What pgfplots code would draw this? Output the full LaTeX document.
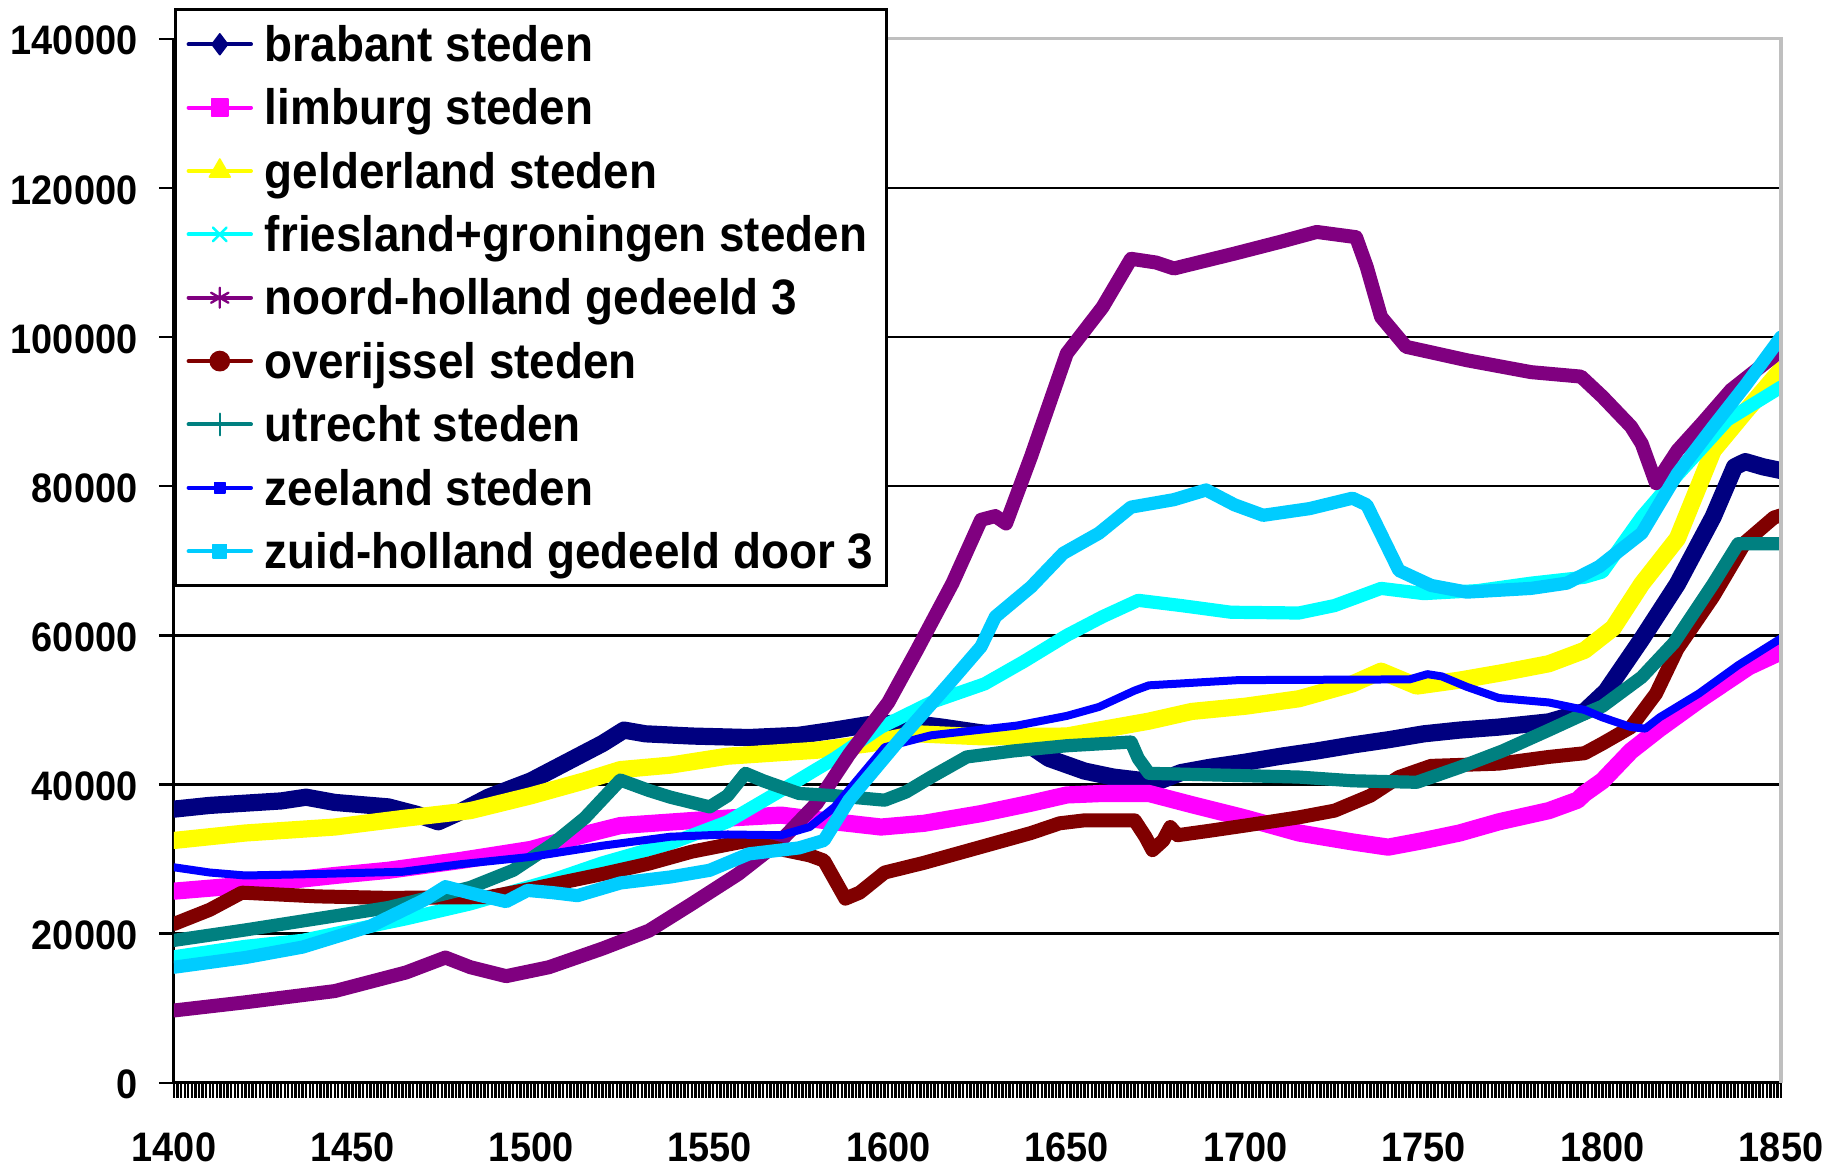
\documentclass[border=0pt]{standalone}
\usepackage{pgfplots}
\pgfplotsset{compat=1.18}
\usepackage{fontspec}
\setmainfont{Liberation Sans}[FakeStretch=0.92]
\definecolor{cNavy}{HTML}{000080}
\definecolor{cMag}{HTML}{FF00FF}
\definecolor{cYel}{HTML}{FFFF00}
\definecolor{cCyan}{HTML}{00FFFF}
\definecolor{cPurp}{HTML}{800080}
\definecolor{cMaroon}{HTML}{800000}
\definecolor{cTeal}{HTML}{008080}
\definecolor{cBlue}{HTML}{0000FF}
\definecolor{cSky}{HTML}{00CCFF}
\pgfplotsset{nomark/.style={mark repeat=100000, mark phase=100000}}
\begin{document}
\begin{tikzpicture}
\begin{axis}[
  name=ax, scale only axis, width=401.75pt, height=261pt,
  xmin=1400, xmax=1850, ymin=0, ymax=140000,
  axis x line*=bottom, axis y line*=left,
  axis line style={line width=0.75pt, black},
  xtick={1400,1450,...,1850}, minor x tick num=49,
  ytick={0,20000,...,140000},
  tick align=outside, major tick length=3.75pt, minor tick length=3.75pt,
  every tick/.style={black, line width=0.6pt},
  ymajorgrids, grid style={black, line width=0.6pt},
  scaled y ticks=false, scaled x ticks=false,
  /pgf/number format/fixed, /pgf/number format/precision=0,
  /pgf/number format/1000 sep={}, /pgf/number format/assume math mode=true,
  tick label style={font=\fontsize{10.3}{12}\selectfont\bfseries},
  xticklabel style={yshift=-5.3pt},
  yticklabel style={xshift=-1.9pt, yshift=-0.5pt},
  every axis plot/.append style={line join=round, line cap=round},
  legend cell align=left,
  legend style={at={(0,1)}, anchor=north west, yshift=7.6pt, draw=black, line width=0.7pt, fill=white,
    inner xsep=2.8pt, inner ysep=0.7pt, row sep=0pt, column sep=2.5pt,
    font=\fontsize{12.45}{14}\selectfont\bfseries,
    nodes={inner xsep=0.5pt, inner ysep=1.82pt, text height=10.4pt, text depth=1.8pt}},
  legend image code/.code={\draw[#1, line width=1pt, mark repeat=2, mark phase=2] plot coordinates {(0pt,0pt) (7.8pt,0pt) (15.6pt,0pt)};},
  after end axis/.code={\draw[color=black!25, line width=0.8pt] (rel axis cs:0.4406,1) -- (rel axis cs:1,1) -- (rel axis cs:1,0);},
]
\addplot[color=cNavy, line width=4.3pt, mark=diamond*, mark size=2.6pt, mark options={solid, line width=0.4pt}, nomark] coordinates {
(1400,36700)(1410,37200)(1420,37500)(1430,37800)(1437,38300)(1445,37600)(1460,37000)(1468,36000)(1474,35000)(1480,36300)(1488,38300)(1500,40500)(1510,43000)(1520,45500)(1526,47300)(1532,46800)(1545,46500)(1561,46300)(1575,46600)(1585,47300)(1594,48000)(1605,48300)(1615,47700)(1625,47000)(1636,46400)(1645,43500)(1655,41800)(1663,41000)(1670,40600)(1676,40500)(1682,41600)(1690,42300)(1700,43000)(1710,43800)(1720,44500)(1730,45300)(1740,46000)(1750,46800)(1760,47300)(1771,47700)(1785,48400)(1795,49800)(1801,52500)(1811,59500)(1821,66900)(1831,75900)(1837,82600)(1840,83300)(1845,82600)(1850,82100)
};
\addlegendentry{brabant steden}
\addplot[color=cMag, line width=4.3pt, mark=square*, mark size=2.1pt, mark options={solid, line width=0.4pt}, nomark] coordinates {
(1400,25700)(1420,26500)(1445,27800)(1460,28500)(1480,29800)(1500,31300)(1515,33300)(1525,34500)(1540,35000)(1555,35500)(1570,35900)(1585,35000)(1598,34300)(1610,34800)(1626,36100)(1640,37500)(1650,38600)(1660,38800)(1673,38800)(1685,37300)(1700,35500)(1715,33500)(1730,32300)(1740,31600)(1750,32500)(1760,33500)(1771,35000)(1785,36500)(1793,37900)(1795,38800)(1800,40500)(1808,44500)(1816,47500)(1827,51300)(1841,55800)(1850,57800)
};
\addlegendentry{limburg steden}
\addplot[color=cYel, line width=4.3pt, mark=triangle*, mark size=3pt, mark options={solid, line width=0.4pt}, nomark] coordinates {
(1400,32500)(1420,33500)(1445,34300)(1465,35500)(1483,36500)(1500,38500)(1515,40500)(1525,42000)(1539,42600)(1555,43800)(1580,44600)(1595,45500)(1608,46800)(1626,46400)(1650,46500)(1659,47300)(1673,48500)(1685,49800)(1700,50500)(1715,51500)(1730,53500)(1738,55200)(1748,53200)(1760,54000)(1772,55000)(1785,56200)(1795,58000)(1803,61000)(1811,66900)(1821,73000)(1831,84800)(1840,90000)(1850,95600)
};
\addlegendentry{gelderland steden}
\addplot[color=cCyan, line width=3.3pt, mark=x, mark size=2.4pt, mark options={solid, line width=0.6pt}, nomark] coordinates {
(1400,16900)(1420,18300)(1436,19100)(1445,20000)(1465,22000)(1483,24000)(1506,27200)(1520,29500)(1539,32100)(1555,35000)(1570,39200)(1585,43500)(1598,47700)(1612,51000)(1627,53500)(1638,56500)(1650,60000)(1660,62500)(1670,64700)(1682,64000)(1696,63100)(1715,63000)(1725,64000)(1738,66300)(1750,65600)(1765,66000)(1780,67000)(1795,67800)(1800,68500)(1811,75900)(1821,81500)(1835,88900)(1850,93300)
};
\addlegendentry{friesland+groningen steden}
\addplot[color=cPurp, line width=3.5pt, mark=asterisk, mark size=2.5pt, mark options={solid, line width=0.6pt}, nomark] coordinates {
(1400,9700)(1420,10800)(1445,12300)(1465,14800)(1476,16800)(1483,15500)(1493,14300)(1505,15500)(1520,18000)(1533,20400)(1545,24000)(1558,28000)(1570,32500)(1580,37500)(1589,44000)(1600,51000)(1608,58000)(1618,67000)(1626,75500)(1630,76000)(1633,75000)(1640,84000)(1650,97800)(1660,104000)(1668,110500)(1675,110000)(1680,109200)(1697,111200)(1710,112800)(1720,114100)(1731,113400)(1734,109400)(1738,102700)(1745,98700)(1762,96900)(1780,95300)(1794,94700)(1800,92000)(1808,88000)(1811,85700)(1815,80400)(1821,84800)(1828,88500)(1836,92900)(1850,98200)
};
\addlegendentry{noord-holland gedeeld 3}
\addplot[color=cMaroon, line width=3.5pt, mark=*, mark size=2.4pt, mark options={solid, line width=0.4pt}, nomark] coordinates {
(1400,21300)(1410,23200)(1419,25500)(1440,25000)(1460,24800)(1488,24900)(1500,26000)(1520,28000)(1533,29400)(1545,31000)(1561,32500)(1570,31300)(1578,30500)(1582,29800)(1588,24700)(1592,25500)(1599,28200)(1610,29500)(1625,31500)(1640,33500)(1648,34800)(1655,35200)(1669,35200)(1672,33000)(1674,31200)(1677,32500)(1679,34300)(1681,33200)(1690,33800)(1700,34500)(1715,35600)(1725,36500)(1735,38500)(1743,41000)(1752,42500)(1771,42800)(1785,43700)(1795,44200)(1800,45500)(1808,47700)(1815,52200)(1821,58200)(1831,65200)(1840,72500)(1848,75800)(1850,76100)
};
\addlegendentry{overijssel steden}
\addplot[color=cTeal, line width=3.3pt, mark=+, mark size=2.7pt, mark options={solid, line width=0.6pt}, nomark] coordinates {
(1400,19100)(1420,20500)(1440,22000)(1460,23500)(1483,26200)(1495,28500)(1506,32000)(1515,35500)(1525,40600)(1533,39200)(1539,38300)(1550,37000)(1555,38500)(1560,41500)(1565,40500)(1575,38800)(1585,38500)(1599,37900)(1605,39000)(1612,41000)(1622,43700)(1635,44500)(1650,45200)(1668,45700)(1670,43500)(1673,41500)(1690,41300)(1715,41000)(1730,40500)(1748,40300)(1760,42300)(1772,44500)(1785,47300)(1795,49500)(1800,50500)(1811,54400)(1820,59000)(1831,66900)(1838,72300)(1850,72300)
};
\addlegendentry{utrecht steden}
\addplot[color=cBlue, line width=2pt, mark=square*, mark size=1.3pt, mark options={solid, line width=0.4pt}, nomark] coordinates {
(1400,28900)(1410,28200)(1420,27800)(1440,28000)(1464,28300)(1480,29300)(1500,30300)(1520,31800)(1539,33000)(1555,33300)(1570,33200)(1578,34300)(1585,37000)(1592,41000)(1599,45000)(1612,46600)(1636,47900)(1650,49200)(1659,50400)(1664,51500)(1669,52600)(1673,53300)(1698,54000)(1746,54100)(1751,54800)(1755,54500)(1762,53100)(1771,51600)(1785,51000)(1795,50000)(1800,49000)(1808,47700)(1812,47500)(1816,49000)(1827,52200)(1838,56000)(1850,59600)
};
\addlegendentry{zeeland steden}
\addplot[color=cSky, line width=3.3pt, mark=square*, mark size=1.7pt, mark options={solid, line width=0.4pt}, nomark] coordinates {
(1400,15500)(1420,16800)(1436,18200)(1455,21000)(1470,24500)(1476,26300)(1485,25200)(1493,24300)(1499,25800)(1506,25500)(1513,25100)(1525,26800)(1539,27600)(1550,28500)(1561,30700)(1575,31500)(1582,32500)(1589,37900)(1603,45900)(1617,53500)(1626,58500)(1630,62500)(1640,66500)(1649,71000)(1659,73700)(1668,77200)(1680,78200)(1689,79500)(1697,77500)(1705,76100)(1718,77000)(1730,78400)(1734,77500)(1743,68700)(1752,66700)(1762,65800)(1780,66300)(1790,67000)(1799,69200)(1811,73700)(1821,81700)(1831,88000)(1840,93500)(1850,100000)
};
\addlegendentry{zuid-holland gedeeld door 3}
\end{axis}
\pgfresetboundingbox
\path[use as bounding box] ([shift={(-43.5pt,-21.4pt)}]ax.south west) rectangle ([shift={(14.5pt,9.7pt)}]ax.north east);
\end{tikzpicture}
\end{document}
